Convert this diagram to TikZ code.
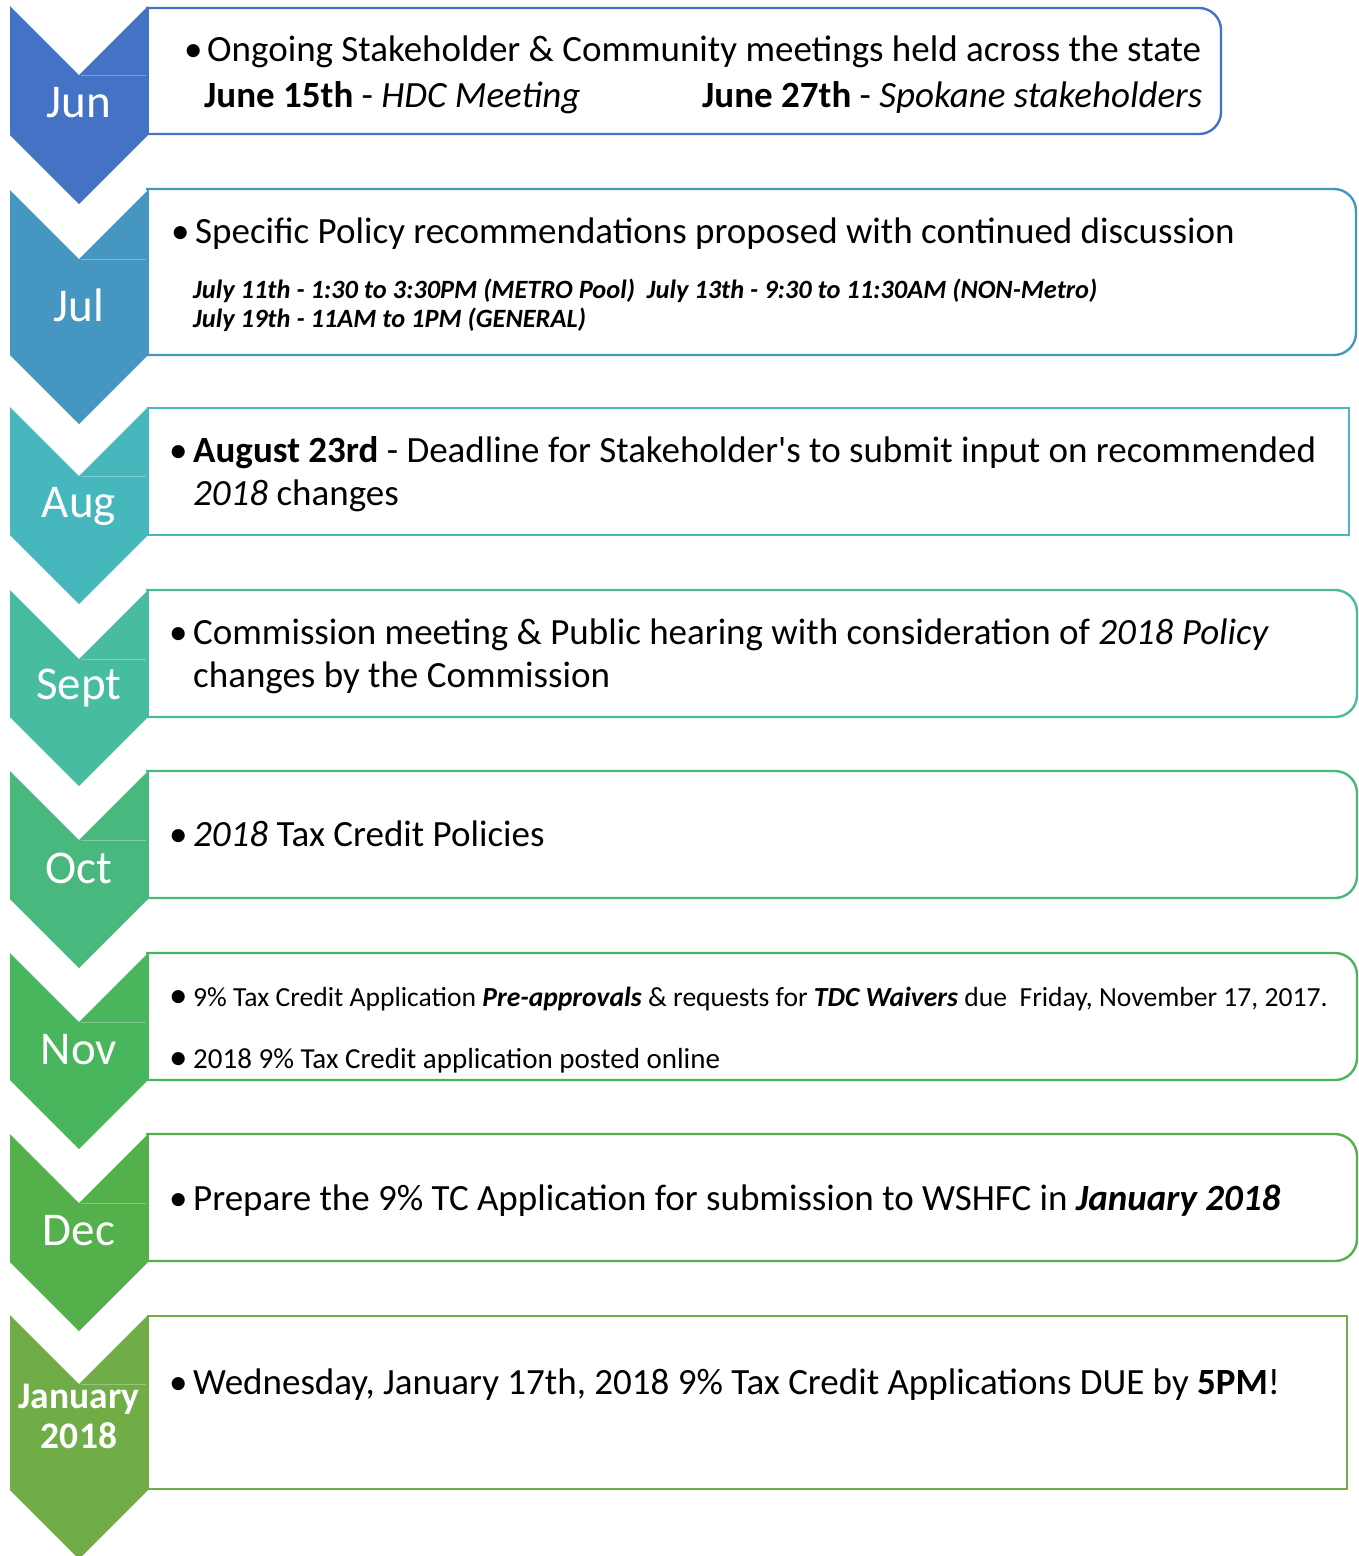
\documentclass[tikz,border=0pt]{standalone}
\usepackage{fontspec}
\setmainfont{Carlito}[Ligatures=TeXOff]
\definecolor{c1}{HTML}{4472C4}
\definecolor{c2}{HTML}{4596C0}
\definecolor{c3}{HTML}{47B7BE}
\definecolor{c4}{HTML}{47BC9F}
\definecolor{c5}{HTML}{48B87E}
\definecolor{c6}{HTML}{49B55C}
\definecolor{c7}{HTML}{53B04A}
\definecolor{c8}{HTML}{70AD47}
\newcommand{\chev}[3]{%
  \fill[#1] (10,#2) -- (79,#2+69) -- (148,#2) -- (148,#3) -- (79,#3+69) -- (10,#3) -- cycle;
  \draw[white, opacity=0.3, line width=0.8] (81,#2+69) -- (146,#2+69);}
\newcommand{\rndbox}[4]{% color, top, bottom, right  (rounded right corners)
  \begin{scope}
    \clip (146,#2-5) rectangle (#4+5,#3+5);
    \draw[#1, line width=2.4, rounded corners=22] (100,#2) rectangle (#4,#3);
  \end{scope}
  \draw[#1, line width=2.4] (148,#2) -- (148,#3);}
\newcommand{\sqbox}[4]{% square box
  \draw[#1, line width=2.4] (148,#2) rectangle (#4,#3);}
\tikzset{
  month/.style={text=white, font=\fontsize{47}{50}\selectfont, inner sep=0pt},
  big/.style={anchor=base west, inner sep=0pt, font=\fontsize{37}{44}\selectfont},
  small/.style={anchor=base west, inner sep=0pt, font=\fontsize{26.4}{31}\selectfont\bfseries\itshape},
  mid/.style={anchor=base west, inner sep=0pt, font=\fontsize{27.6}{32}\selectfont},
  midb/.style={anchor=base west, inner sep=0pt, font=\fontsize{29}{34}\selectfont},
}
\begin{document}
\begin{tikzpicture}[x=1pt,y=-1pt]
\useasboundingbox (0,0) rectangle (1359,1556);
% boxes
\rndbox{c1}{8}{134}{1221}
\rndbox{c2}{189}{355}{1356}
\sqbox{c3}{408}{535}{1349}
\rndbox{c4}{590}{717}{1357}
\rndbox{c5}{771}{898}{1357}
\rndbox{c6}{953}{1080}{1357}
\rndbox{c7}{1134}{1261}{1357}
\sqbox{c8}{1316}{1489}{1347}
% chevrons
\chev{c1}{6}{135}
\chev{c2}{190}{355}
\chev{c3}{407}{535}
\chev{c4}{590}{717}
\chev{c5}{771}{899}
\chev{c6}{953}{1080}
\chev{c7}{1134}{1262}
\chev{c8}{1315}{1490}
% month labels
\node[month] (mjun) at (79,103) {Jun};
\node[month] (mjul) at (79,305) {Jul};
\node[month] (maug) at (79,506) {Aug};
\node[month] (msep) at (79,688) {Sept};
\node[month] (moct) at (79,868) {Oct};
\node[month] (mnov) at (79,1050) {Nov};
\node[month] (mdec) at (79,1231) {Dec};
\node[month, font=\fontsize{37.5}{40}\selectfont\bfseries, align=center] (mjan) at (79,1416) {January\\2018};
% Jun
\node[big] (b1) at (184,61) {•};
\node[big] (t1) at (207,61) {Ongoing Stakeholder \& Community meetings held across the state};
\node[big] (t1a) at (204,107) {\textbf{June 15th} - \textit{HDC Meeting}};
\node[big] (t1b) at (702,107) {\textbf{June 27th} - \textit{Spokane stakeholders}};
% Jul
\node[big] (b2) at (171,243) {•};
\node[big] (t2) at (195,243) {Specific Policy recommendations proposed with continued discussion};
\node[small] (t2a) at (193,298) {July 11th - 1:30 to 3:30PM (METRO Pool)\ \ July 13th - 9:30 to 11:30AM (NON-Metro)};
\node[small] (t2b) at (193,327) {July 19th - 11AM to 1PM (GENERAL)};
% Aug
\node[big] (b3) at (169,462) {•};
\node[big] (t3) at (193,462) {\textbf{August 23rd} - Deadline for Stakeholder's to submit input on recommended};
\node[big] (t3a) at (193,505) {\textit{2018} changes};
% Sept
\node[big] (b4) at (169,644) {•};
\node[big] (t4) at (193,644) {Commission meeting \& Public hearing with consideration of \textit{2018 Policy}};
\node[big] (t4a) at (193,687) {changes by the Commission};
% Oct
\node[big] (b5) at (169,846) {•};
\node[big] (t5) at (193,846) {\textit{2018} Tax Credit Policies};
% Nov
\node[big] (b6) at (169,1007) {•};
\node[mid] (t6) at (193,1006) {9\% Tax Credit Application \textbf{\textit{Pre-approvals}} \& requests for \textbf{\textit{TDC Waivers}} due\ \ Friday, November 17, 2017.};
\node[big] (b6a) at (169,1069) {•};
\node[midb] (t6a) at (193,1068) {2018 9\% Tax Credit application posted online};
% Dec
\node[big] (b7) at (169,1210) {•};
\node[big] (t7) at (193,1210) {Prepare the 9\% TC Application for submission to WSHFC in \textbf{\textit{January 2018}}};
% Jan
\node[big] (b8) at (169,1394) {•};
\node[big] (t8) at (193,1394) {Wednesday, January 17th, 2018 9\% Tax Credit Applications DUE by \textbf{5PM}!};
\end{tikzpicture}
\end{document}
